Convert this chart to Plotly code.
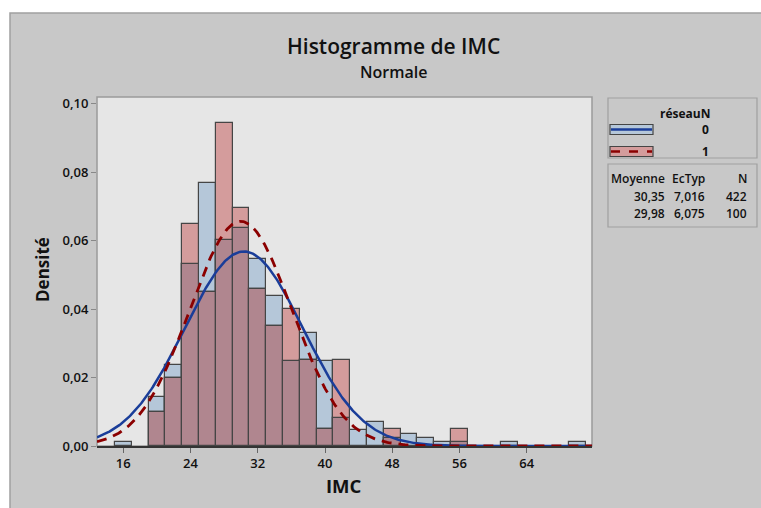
import numpy as np
import plotly.graph_objects as go

# ---- data ----
bin_centers = [16, 18, 20, 22, 24, 26, 28, 30, 32, 34, 36, 38, 40, 42, 44, 46, 48, 50, 52, 54, 56, 58, 60, 62, 64, 66, 68, 70]
dens_0 = [0.0012, 0, 0.0142, 0.0236, 0.0532, 0.0768, 0.0603, 0.0638, 0.0546, 0.0438, 0.0247, 0.0331, 0.0247, 0.0082, 0.0047, 0.0070, 0.0023, 0.0035, 0.0023, 0.0012, 0.0012, 0, 0, 0.0012, 0, 0, 0, 0.0012]
dens_1 = [0, 0, 0.0100, 0.0200, 0.0648, 0.0450, 0.0945, 0.0697, 0.0458, 0.0350, 0.0400, 0.0250, 0.0050, 0.0250, 0, 0, 0.0050, 0, 0, 0, 0.0050, 0, 0, 0, 0, 0, 0, 0]
groups = ["0", "1"]
means = [30.35, 29.98]
sds = [7.016, 6.075]
ns = [422, 100]
mean_labels = ["30,35", "29,98"]
sd_labels = ["7,016", "6,075"]
x_ticks = [16, 24, 32, 40, 48, 56, 64]
y_ticks = [0.0, 0.02, 0.04, 0.06, 0.08, 0.10]
y_tick_labels = ["0,00", "0,02", "0,04", "0,06", "0,08", "0,10"]
BIN_W = 2

# ---- layout geometry (pixels) ----
W, H = 761, 508
L, R, T, B = 97, 592, 97, 446
XMIN, XMAX = 12.87, 71.77
YMIN, YMAX = 0.0, 0.102

def PX(x):
    return (x - L) / (R - L)

def PY(y):
    return (B - y) / (B - T)

BLUE_F = "#b5c7d9"
RED_F = "#d49c9c"
MIX_F = "#b0868f"
EDGE = "#454545"
BLUE_L = "#1a3d99"
RED_L = "#8b0000"
PANEL = "#c8c8c8"
FONT = "Open Sans"

fig = go.Figure()

def bars(vals, color, name):
    xs = [c for c, v in zip(bin_centers, vals) if v > 0]
    ys = [v for v in vals if v > 0]
    fig.add_trace(go.Bar(x=xs, y=ys, width=BIN_W, name=name,
                         marker=dict(color=color, line=dict(color=EDGE, width=1.2)),
                         showlegend=False, hoverinfo="skip"))

bars(dens_0, BLUE_F, "0")
bars(dens_1, RED_F, "1")
bars([min(a, b) for a, b in zip(dens_0, dens_1)], MIX_F, "both")

xs = np.linspace(XMIN, XMAX, 400)
for m, s, col, dash, w in [(means[0], sds[0], BLUE_L, "solid", 2.5), (means[1], sds[1], RED_L, "10px,7px", 2.8)]:
    ys = np.exp(-0.5 * ((xs - m) / s) ** 2) / (s * np.sqrt(2 * np.pi))
    fig.add_trace(go.Scatter(x=xs, y=ys, mode="lines", line=dict(color=col, width=w, dash=dash),
                             showlegend=False, hoverinfo="skip"))

shapes = []
# grey panel
shapes.append(dict(type="rect", xref="paper", yref="paper", x0=PX(10), x1=PX(900), y0=PY(700), y1=PY(13),
                   fillcolor=PANEL, line=dict(color="#a0a0a0", width=1.5), layer="below"))
# plot area background
shapes.append(dict(type="rect", xref="paper", yref="paper", x0=0, x1=1, y0=0, y1=1,
                   fillcolor="#e6e6e6", line=dict(color="#9a9a9a", width=1.5), layer="below"))
# legend boxes
shapes.append(dict(type="rect", xref="paper", yref="paper", x0=PX(608), x1=PX(757), y0=PY(158), y1=PY(98),
                   fillcolor=PANEL, line=dict(color="#a0a0a0", width=1.2)))
shapes.append(dict(type="rect", xref="paper", yref="paper", x0=PX(608), x1=PX(757), y0=PY(227), y1=PY(164),
                   fillcolor=PANEL, line=dict(color="#a0a0a0", width=1.2)))
# swatches
for yc, fill, col, dash in [(129.5, BLUE_F, BLUE_L, "solid"), (151.5, RED_F, RED_L, "dash")]:
    shapes.append(dict(type="rect", xref="paper", yref="paper", x0=PX(610), x1=PX(653), y0=PY(yc + 5), y1=PY(yc - 5),
                       fillcolor=fill, line=dict(color=EDGE, width=1.2)))
    shapes.append(dict(type="line", xref="paper", yref="paper", x0=PX(611), x1=PX(652), y0=PY(yc), y1=PY(yc),
                       line=dict(color=col, width=2.5, dash=dash)))

ann = []
def text(x, y, s, size, xanchor="center", angle=0, weight=400):
    ann.append(dict(xref="paper", yref="paper", x=PX(x), y=PY(y), text=s, showarrow=False,
                    xanchor=xanchor, yanchor="middle", textangle=angle,
                    font=dict(family=FONT, size=size, color="#111111", weight=weight)))

text(393, 46, "Histogramme de IMC", 21, weight=600)
text(393, 72, "Normale", 16, weight=600)
text(344, 485, "IMC", 18.5, weight=700)
text(42, 270, "Densité", 17, weight=700, angle=-90)
text(685, 113, "réseauN", 12, weight=700)
text(705, 129.5, groups[0], 12, weight=700)
text(705, 151.5, groups[1], 12, weight=700)
text(667, 178, "Moyenne", 12, weight=600, xanchor="right")
text(707, 178, "EcTyp", 12, weight=600, xanchor="right")
text(749, 178, "N", 12, weight=600, xanchor="right")
for i, yy in enumerate([196, 213]):
    text(667, yy, mean_labels[i], 12, weight=600, xanchor="right")
    text(707, yy, sd_labels[i], 12, weight=600, xanchor="right")
    text(749, yy, str(ns[i]), 12, weight=600, xanchor="right")

fig.update_layout(
    width=W, height=H,
    margin=dict(l=L, r=W - R, t=T, b=H - B, pad=0),
    paper_bgcolor="white", plot_bgcolor="rgba(0,0,0,0)",
    barmode="overlay", bargap=0,
    shapes=shapes, annotations=ann,
    font=dict(family=FONT, color="#111111"),
)
fig.update_xaxes(range=[XMIN, XMAX], tickvals=x_ticks, ticktext=[str(v) for v in x_ticks],
                 ticks="outside", ticklen=5, tickcolor="#666666", showgrid=False, zeroline=False,
                 showline=True, linecolor="#333333", linewidth=1.5,
                 tickfont=dict(family=FONT, size=13, color="#111111", weight=600))
fig.update_yaxes(range=[YMIN, YMAX], tickvals=y_ticks, ticktext=y_tick_labels,
                 ticks="outside", ticklen=5, tickcolor="#888888", showgrid=False, zeroline=False,
                 showline=False,
                 tickfont=dict(family=FONT, size=13, color="#111111", weight=600))

fig.write_html("out.html", config={"displayModeBar": False},
               post_script="document.body.style.margin='0';document.body.style.overflow='hidden';")
